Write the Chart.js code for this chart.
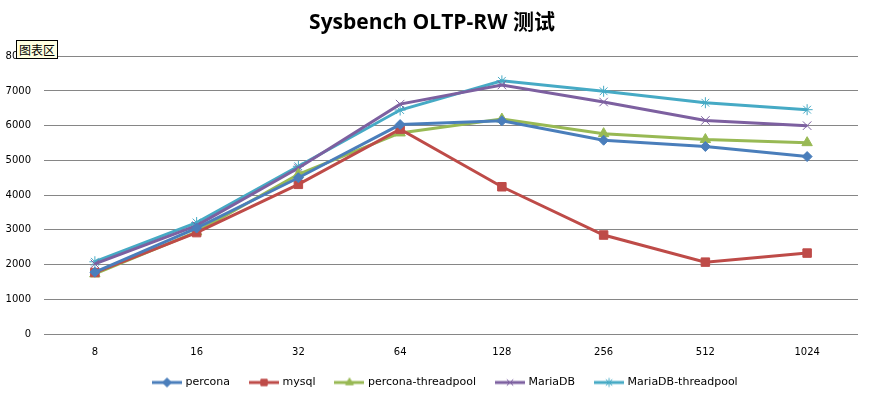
<!DOCTYPE html>
<html><head><meta charset="utf-8">
<script src="https://cdn.jsdelivr.net/npm/chart.js@4/dist/chart.umd.min.js"></script>
<style>
html,body{margin:0;padding:0;background:#fff;}
#wrap{position:relative;width:873px;height:398px;}
#tip{position:absolute;left:16px;top:40px;padding:0 2px;height:17px;line-height:17px;background:#FFFFE1;border:1px solid #000;font:12px "Noto Sans CJK SC",sans-serif;color:#000;}
</style></head>
<body><div id="wrap"><canvas id="c" width="873" height="398"></canvas><div id="tip">图表区</div></div>
<script>
const categories = ["8","16","32","64","128","256","512","1024"];
const yTicks = [0,1000,2000,3000,4000,5000,6000,7000,8000];
const percona = [1780, 3050, 4500, 6030, 6140, 5580, 5400, 5110];
const mysql = [1770, 2920, 4310, 5900, 4240, 2850, 2070, 2330];
const perconaThreadpool = [1730, 2940, 4600, 5790, 6190, 5770, 5600, 5510];
const mariaDB = [2020, 3120, 4780, 6620, 7170, 6680, 6150, 6000];
const mariaDBThreadpool = [2080, 3210, 4830, 6450, 7290, 6990, 6660, 6460];
const seriesNames = ["percona","mysql","percona-threadpool","MariaDB","MariaDB-threadpool"];
const colors = ["#4A7EBB","#BE4B48","#98B954","#7D60A0","#46AAC5"];
const styles = ["rectRot","rect","triangle","crossRot","star"];
const radii = [5,6,6,6,5.5];

function legendIcon(color, style){
  const cv = document.createElement('canvas');
  cv.width = 30; cv.height = 12;
  const ctx = cv.getContext('2d');
  ctx.strokeStyle = color; ctx.lineWidth = 3;
  ctx.beginPath(); ctx.moveTo(0,6); ctx.lineTo(30,6); ctx.stroke();
  ctx.fillStyle = color; ctx.strokeStyle = color; ctx.lineWidth = 1;
  Chart.helpers.drawPoint(ctx, {pointStyle: style, radius: 4.5, rotation: 0, borderWidth: 1}, 15, 6);
  return cv;
}

const allData = [percona, mysql, perconaThreadpool, mariaDB, mariaDBThreadpool];
const datasets = allData.map((d,i)=>({
  label: seriesNames[i],
  data: d,
  borderColor: colors[i],
  backgroundColor: colors[i],
  borderWidth: 3,
  pointStyle: styles[i],
  pointRadius: radii[i],
  pointBorderWidth: 1,
  pointBorderColor: colors[i],
  pointBackgroundColor: colors[i],
  tension: 0,
  fill: false
}));

const legendShift = {
  id: 'legendShift',
  beforeDraw(chart){
    const lg = chart.legend;
    if (lg) { const w = lg.right - lg.left; lg.left = 147; lg.right = lg.left + w; }
  }
};

new Chart(document.getElementById('c'), {
  type: 'line',
  data: { labels: categories, datasets },
  plugins: [legendShift],
  options: {
    responsive: false,
    animation: false,
    layout: { padding: { left: 6, right: 15, top: 8, bottom: 0 } },
    plugins: {
      title: {
        display: true,
        text: 'Sysbench OLTP-RW 测试',
        color: '#000',
        font: { family: '"Open Sans", "Noto Sans CJK SC", sans-serif', size: 21, weight: 'bold' },
        padding: { top: 2, bottom: 21 }
      },
      legend: {
        position: 'bottom',
        align: 'start',
        labels: {
          color: '#000',
          font: { family: '"DejaVu Sans", sans-serif', size: 11 },
          usePointStyle: true,
          pointStyleWidth: 26,
          boxHeight: 11,
          padding: 7,
          generateLabels: (chart) => chart.data.datasets.map((ds,i)=>({
            text: ds.label + '    ',
            pointStyle: legendIcon(colors[i], styles[i]),
            fillStyle: colors[i],
            strokeStyle: colors[i],
            lineWidth: 0,
            datasetIndex: i,
            hidden: false
          }))
        }
      },
      tooltip: { enabled: false }
    },
    scales: {
      x: {
        offset: true,
        grid: { display: false, drawTicks: false },
        border: { display: false },
        ticks: { color: '#000', font: { family: '"DejaVu Sans", sans-serif', size: 10 }, padding: 12 }
      },
      y: {
        min: yTicks[0], max: yTicks[yTicks.length-1],
        afterBuildTicks: (axis) => { axis.ticks = yTicks.map(v=>({value:v})); },
        afterFit: (scale) => { scale.width = 38; },
        ticks: { color: '#000', font: { family: '"DejaVu Sans", sans-serif', size: 10 }, padding: 13, callback: (v)=>String(v) },
        grid: { color: '#868686', lineWidth: 1, drawTicks: false },
        border: { display: false }
      }
    }
  }
});
</script>
</body></html>
